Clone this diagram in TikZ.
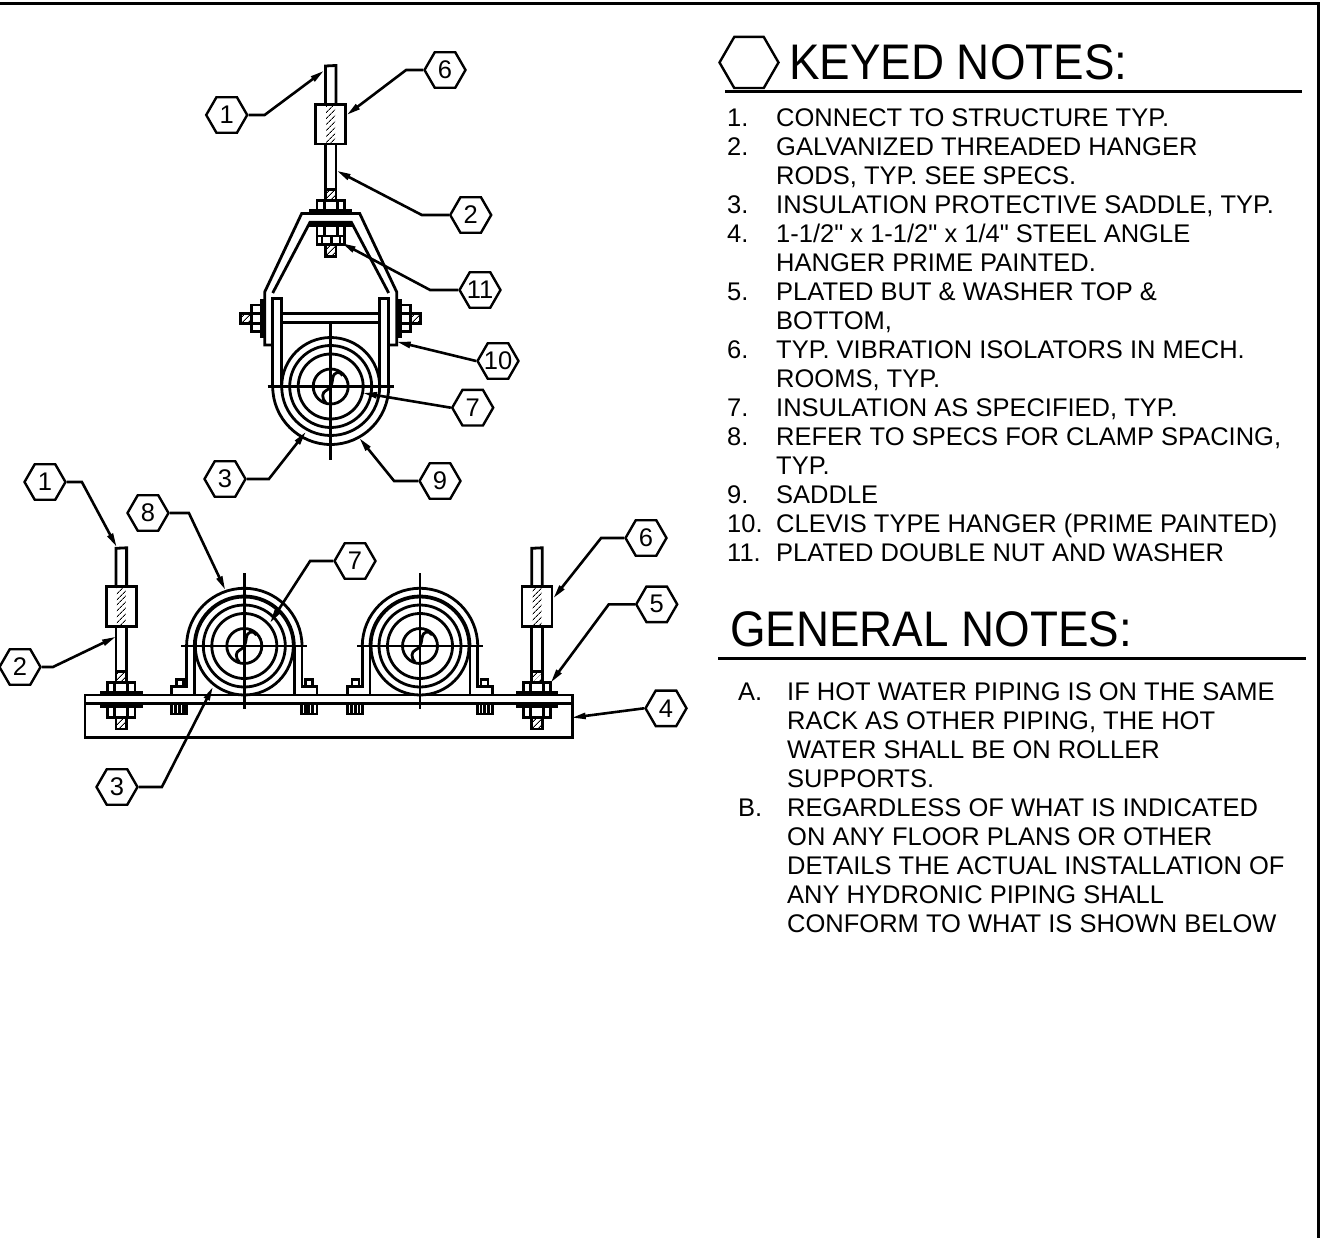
\documentclass[tikz,border=0pt]{standalone}
\usepackage{fontspec}
\setmainfont[Ligatures=TeXOff]{Liberation Sans}
\newfontfamily\headface[FakeStretch=0.915]{Liberation Sans}
\usetikzlibrary{arrows.meta,patterns.meta,shapes.geometric}
\newcommand{\tagsize}{41pt}
\newcommand{\notefont}{\fontsize{25.5}{29}\selectfont}
\newcommand{\headfont}{\headface\fontsize{50}{56}\selectfont}
\newcommand{\wide}[1]{\makebox[0pt]{#1}}
\tikzset{
  x=1pt,y=-1pt,
  >={Stealth[length=14pt,width=6pt,inset=0pt]},
  font=\notefont,
  tag/.style={draw,line width=2.4pt,fill=white,shape=regular polygon,regular polygon sides=6,minimum size=\tagsize,inner sep=0},
  leader/.style={draw,->,line width=2.6pt},
  part/.style={draw,line width=2.8pt,fill=white},
  hatch/.style={pattern={Lines[angle=45,distance=4pt,line width=0.9pt]}},
  head/.style={anchor=base west,inner sep=0,font=\headfont},
  notes/.style={anchor=north west,inner sep=0},
  rule/.style={line width=2.8pt},
  break/.pic={
    \draw [part,fill=none] (12,-11) .. controls (9,-16) and (3,-15) .. (2,-8) .. controls (1.5,-4) and (1,-2) .. (0,0) .. controls (-2,4) and (-8,4) .. (-8,9) .. controls (-8,12) and (-7,14) .. (-5,16);
  },
}
% rod with isolator and upper nut, #1 = centre x, #2 = top y
\newcommand{\rodstem}[2]{
  \begin{scope}[shift={(#1,#2)}]
    \draw [part,fill=none] (-5.3,38.5) -- (-5.3,0) -- (5.3,-0.5) -- (5.3,38.5);
    \draw [part,fill=none] (-5.3,78) -- (-5.3,123.5);
    \draw [part,fill=none] (5.3,78) -- (5.3,123.5);
    \draw [part] (-15,38.5) rectangle (15,78);
    \fill [hatch] (-4.5,39.5) rectangle (4.5,77);
    \draw [part,hatch] (-5.3,123.5) rectangle (5.3,134);
    \draw [part] (-13.7,134.4) rectangle (13.7,144);
    \draw [part,fill=none] (-6.5,134.4) -- (-6.5,144) (6.5,134.4) -- (6.5,144);
    \draw [part] (-20,144) rectangle (20,146.7);
  \end{scope}
}
% washer and nut below the plate, #1 = centre x, #2 = top y
\newcommand{\lowernut}[2]{
  \begin{scope}[shift={(#1,#2)}]
    \draw [part] (-20,0) rectangle (20,3.4);
    \draw [part] (-13.7,3.4) rectangle (13.7,14);
    \draw [part,fill=none] (-6.5,3.4) -- (-6.5,14) (6.5,3.4) -- (6.5,14);
  \end{scope}
}
\begin{document}
\begin{tikzpicture}
  \useasboundingbox (0,0) rectangle (1332,1238);
  \draw [line width=3pt] (0,3.2) -- (1318.7,3.2) -- (1318.7,1238);

  % hanger, side view
  \rodstem{330.7}{66}
  \draw [part,fill=none] (272.7,345) -- (264.7,345) -- (264.7,292) -- (301.7,213.5) -- (359.7,213.5) -- (396.7,292) -- (396.7,345) -- (388.7,345);
  \draw [part,fill=none] (272.7,293) -- (310,222.3) -- (351.4,222.3) -- (388.7,293);
  \lowernut{330.7}{222.5}
  \draw [part] (317,236) rectangle (344.4,244.3);
  \draw [part,fill=none] (322,236) -- (322,244.3) (331.7,236) -- (331.7,244.3) (340,236) -- (340,244.3);
  \draw [part,hatch] (325.4,244.3) rectangle (336,256.7);
  \foreach \sx in {-1,1} {
    \begin{scope}[shift={(330.7,0)},xscale=\sx]
      \draw [part] (66.7,300) rectangle (69.4,336.7);
      \draw [part] (69.4,305) rectangle (79.4,331.7);
      \draw [part,fill=none] (69.4,313.3) -- (79.4,313.3) (69.4,323.3) -- (79.4,323.3);
      \draw [part,hatch] (79.4,313.3) rectangle (90,323.3);
      \draw [part,fill=none] (58,386.5) -- (58,298.3) -- (49,298.3) -- (49,386.5);
    \end{scope}
  }
  \draw [part] (281.7,313.3) rectangle (379.7,322.3);
  \begin{scope}[shift={(330.7,386.5)}]
    \draw [part,fill=none] (-58,0) arc [start angle=180,end angle=0,radius=58];
    \foreach \r in {49,41,32.5,17.5} {
      \draw [part,fill=none] (0,0) circle [radius=\r];
    }
    \pic {break};
    \draw [part,fill=none] (-63,0) -- (63,0) (0,-63) -- (0,73.5);
  \end{scope}

  % rack, front view
  \draw [part] (85,695) rectangle (572.7,737.3);
  \draw [part,fill=none] (85,703.3) -- (570.7,703.3);
  \foreach \cx/\dir in {244.3/-1,420/1} {
    \begin{scope}[shift={(\cx,646)}]
      \foreach \sx in {-1,1} {
        \begin{scope}[xscale=\sx]
          \draw [part] (61,33.3) rectangle (68,40.7);
          \draw [part,fill=none] (50,0) -- (50,49) (57.7,0) -- (57.7,40.7) -- (72.7,40.7) -- (72.7,49) -- (50,49);
          \draw [part,fill=none] (57.5,59) -- (57.5,68) -- (72.7,68) -- (72.7,59);
          \draw [part,fill=none] (61,59) -- (61,68) (64.5,59) -- (64.5,68) (68.5,59) -- (68.5,68);
        \end{scope}
      }
      \draw [part,fill=none] (-57.7,0) arc [start angle=180,end angle=360,radius=57.7];
      \draw [part,fill=none] (-50,0) arc [start angle=180,end angle=360,radius=50];
      \foreach \r in {49,41,32.5,17.5} {
        \draw [part,fill=none] (0,0) circle [radius=\r];
      }
      \begin{scope}[xscale=\dir]
        \pic {break};
      \end{scope}
      \draw [part,fill=none] (-63,0) -- (63,0) (0,-72.7) -- (0,63.3);
    \end{scope}
  }
  \foreach \rx in {121.3,537} {
    \rodstem{\rx}{548.3}
    \lowernut{\rx}{703.3}
    \draw [part,hatch] (\rx-5.3,717.3) rectangle (\rx+5.3,729);
  }

  % tags, side view
  \coordinate (t1) at (324,70.7);
  \coordinate (t6) at (346.7,115);
  \coordinate (t2) at (336.7,170.7);
  \coordinate (t11) at (341.7,243);
  \coordinate (t10) at (396.7,341.7);
  \coordinate (t7) at (363,393);
  \coordinate (t3) at (306,431.7);
  \coordinate (t9) at (359.3,438);
  \node (n1) at (226.7,115) [tag] {1};
  \node (n6) at (445,70) [tag] {6};
  \node (n2) at (470.7,215) [tag] {2};
  \node (n11) at (480,290) [tag] {\wide{11}};
  \node (n10) at (498,361) [tag] {\wide{10}};
  \node (n7) at (472.7,407.7) [tag] {7};
  \node (n3) at (225,479) [tag] {3};
  \node (n9) at (440,481) [tag] {9};
  \path [leader] (n1.east) -- ++(16,0) -- (t1);
  \path [leader] (n6.west) -- ++(-17,0) -- (t6);
  \path [leader] (n2.west) -- ++(-27,0) -- (t2);
  \path [leader] (n11.west) -- ++(-28,0) -- (t11);
  \path [leader] (n10.west) -- (t10);
  \path [leader] (n7.west) -- (t7);
  \path [leader] (n3.east) -- ++(22,0) -- (t3);
  \path [leader] (n9.west) -- ++(-24,0) -- (t9);

  % tags, front view
  \coordinate (f1) at (116.7,547);
  \coordinate (f2) at (116,636.7);
  \coordinate (f8) at (225.3,590);
  \coordinate (f7) at (270,623);
  \coordinate (f3) at (213,686.7);
  \coordinate (f6) at (553.3,598.3);
  \coordinate (f5) at (550.7,682.7);
  \coordinate (f4) at (571.7,717.7);
  \node (m1) at (45,482) [tag] {1};
  \node (m2) at (20,667) [tag] {2};
  \node (m8) at (148,513) [tag] {8};
  \node (m7) at (355,561) [tag] {7};
  \node (m3) at (117,787) [tag] {3};
  \node (m6) at (646,538) [tag] {6};
  \node (m5) at (656.7,604.3) [tag] {5};
  \node (m4) at (666,708.3) [tag] {4};
  \path [leader] (m1.east) -- ++(15,0) -- (f1);
  \path [leader] (m2.east) -- ++(11,0) -- (f2);
  \path [leader] (m8.east) -- ++(19,0) -- (f8);
  \path [leader] (m7.west) -- ++(-23,0) -- (f7);
  \path [leader] (m3.east) -- ++(23,0) -- (f3);
  \path [leader] (m6.west) -- ++(-23,0) -- (f6);
  \path [leader] (m5.west) -- ++(-26,0) -- (f5);
  \path [leader] (m4.west) -- (f4);

  % notes
  \node (hex) at (749,62.5) [draw,line width=2.4pt,shape=regular polygon,regular polygon sides=6,minimum size=59pt,inner sep=0] {};
  \node (keyedhead) at (789,80) [head] {KEYED NOTES:};
  \draw [rule] (725,91.5) -- (1302,91.5);
  \node (keyed) at (727,105.7) [notes] {%
    \begin{tabular}{@{}p{49pt}@{}l@{}}
      1. & CONNECT TO STRUCTURE TYP.\\
      2. & GALVANIZED THREADED HANGER\\
         & RODS, TYP. SEE SPECS.\\
      3. & INSULATION PROTECTIVE SADDLE, TYP.\\
      4. & 1-1/2" x 1-1/2" x 1/4" STEEL ANGLE\\
         & HANGER PRIME PAINTED.\\
      5. & PLATED BUT \& WASHER TOP \&\\
         & BOTTOM,\\
      6. & TYP. VIBRATION ISOLATORS IN MECH.\\
         & ROOMS, TYP.\\
      7. & INSULATION AS SPECIFIED, TYP.\\
      8. & REFER TO SPECS FOR CLAMP SPACING,\\
         & TYP.\\
      9. & SADDLE\\
      10. & CLEVIS TYPE HANGER (PRIME PAINTED)\\
      11. & PLATED DOUBLE NUT AND WASHER
    \end{tabular}};
  \node (generalhead) at (730,646) [head] {GENERAL NOTES:};
  \draw [rule] (718,658.3) -- (1306,658.3);
  \node (general) at (738,679.7) [notes] {%
    \begin{tabular}{@{}p{49pt}@{}l@{}}
      A. & IF HOT WATER PIPING IS ON THE SAME\\
         & RACK AS OTHER PIPING, THE HOT\\
         & WATER SHALL BE ON ROLLER\\
         & SUPPORTS.\\
      B. & REGARDLESS OF WHAT IS INDICATED\\
         & ON ANY FLOOR PLANS OR OTHER\\
         & DETAILS THE ACTUAL INSTALLATION OF\\
         & ANY HYDRONIC PIPING SHALL\\
         & CONFORM TO WHAT IS SHOWN BELOW
    \end{tabular}};
\end{tikzpicture}
\end{document}
